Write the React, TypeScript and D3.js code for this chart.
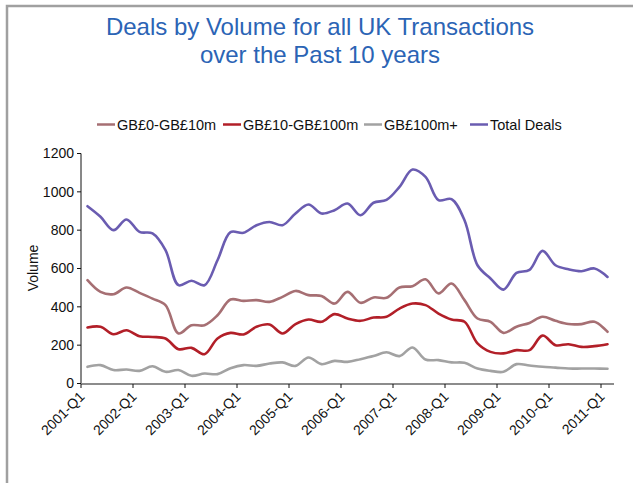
import React from "react";
import * as d3 from "d3";

const years = [2001, 2002, 2003, 2004, 2005, 2006, 2007, 2008, 2009, 2010, 2011];
const categories: string[] = [];
years.forEach((y) => ["Q1", "Q2", "Q3", "Q4"].forEach((q) => categories.push(`${y}-${q}`)));
categories.splice(41);

const tickLabels = ["2001-Q1", "2002-Q1", "2003-Q1", "2004-Q1", "2005-Q1", "2006-Q1", "2007-Q1", "2008-Q1", "2009-Q1", "2010-Q1", "2011-Q1"];
const yTicks = [0, 200, 400, 600, 800, 1000, 1200];

const small = [539, 478, 466, 501, 473, 443, 409, 261, 304, 304, 356, 438, 431, 435, 426, 452, 483, 461, 457, 417, 478, 421, 449, 447, 501, 508, 544, 470, 522, 435, 339, 322, 264, 296, 316, 348, 327, 310, 310, 322, 270];
const mid = [292, 296, 257, 278, 247, 243, 235, 179, 186, 153, 235, 264, 256, 296, 308, 261, 310, 334, 322, 362, 339, 327, 344, 348, 391, 417, 409, 365, 334, 322, 209, 165, 157, 174, 174, 250, 200, 205, 191, 195, 205];
const large = [87, 96, 70, 73, 66, 90, 61, 70, 40, 52, 49, 80, 96, 92, 104, 110, 92, 136, 101, 118, 113, 127, 143, 163, 143, 188, 125, 122, 110, 108, 78, 66, 61, 101, 94, 87, 83, 78, 78, 78, 77];
const total = [925, 870, 800, 856, 791, 783, 696, 513, 536, 513, 643, 790, 786, 826, 843, 826, 887, 934, 887, 904, 939, 878, 943, 958, 1026, 1116, 1078, 957, 962, 852, 617, 548, 490, 577, 593, 692, 617, 596, 586, 600, 556];

const seriesNames = ["GB£0-GB£10m", "GB£10-GB£100m", "GB£100m+", "Total Deals"];
const seriesValues = [small, mid, large, total];
const seriesColors = ["#a66f73", "#b21f28", "#a2a2a2", "#6a5cb1"];

const FONT = "'Liberation Sans', Arial, Helvetica, sans-serif";

export default function App() {
  const x = d3.scaleBand<string>().domain(categories).range([81, 614]).padding(0);
  const y = d3.scaleLinear().domain([0, 1200]).range([383.5, 153.5]);
  const bw = x.bandwidth();
  const line = d3
    .line<number>()
    .x((_, i) => (x(categories[i]) as number) + bw / 2)
    .y((d) => y(d))
    .curve(d3.curveCatmullRom.alpha(0.5));

  const legendX = [97, 223, 364, 470];

  return (
    <svg
      width={633}
      height={483}
      style={{ position: "absolute", left: 0, top: 0, background: "#fff" }}
      fontFamily={FONT}
    >
      {/* frame */}
      <path d="M7,483 L7,6 L633,6" fill="none" stroke="#a0a0a0" strokeWidth={2.5} />

      {/* title */}
      <text x={320} y={35} textAnchor="middle" fontSize={24} fill="#2b64b5">
        Deals by Volume for all UK Transactions
      </text>
      <text x={320} y={63} textAnchor="middle" fontSize={24} fill="#2b64b5">
        over the Past 10 years
      </text>

      {/* legend */}
      {seriesNames.map((n, i) => (
        <g key={n} transform={`translate(${legendX[i]},124.5)`}>
          <line x1={0} x2={18} y1={0} y2={0} stroke={seriesColors[i]} strokeWidth={2.5} />
          <text x={20} y={0} dy="0.35em" fontSize={14.5} fill="#111">
            {n}
          </text>
        </g>
      ))}

      {/* y axis */}
      <line x1={81} x2={81} y1={y(1200)} y2={y(0)} stroke="#111" strokeWidth={1} />
      {yTicks.map((t) => (
        <g key={t}>
          <line x1={77} x2={81} y1={y(t)} y2={y(t)} stroke="#111" strokeWidth={1} />
          <text x={74} y={y(t)} dy="0.35em" textAnchor="end" fontSize={14} fill="#111">
            {t}
          </text>
        </g>
      ))}
      <text
        transform={`translate(33,268) rotate(-90)`}
        textAnchor="middle"
        dy="0.35em"
        fontSize={14}
        fill="#111"
      >
        Volume
      </text>

      {/* x axis */}
      <line x1={81} x2={614} y1={384} y2={384} stroke="#8c8c8c" strokeWidth={1.8} />
      {tickLabels.map((lab) => {
        const tx = x(lab) as number;
        return (
          <g key={lab}>
            <line x1={tx} x2={tx} y1={384} y2={388} stroke="#111" strokeWidth={1} />
            <text
              transform={`translate(${tx + 1},394) rotate(-45)`}
              textAnchor="end"
              dy="0.35em"
              fontSize={14}
              fill="#111"
            >
              {lab}
            </text>
          </g>
        );
      })}

      {/* series */}
      {seriesValues.map((vals, i) => (
        <path
          key={seriesNames[i]}
          d={line(vals) as string}
          fill="none"
          stroke={seriesColors[i]}
          strokeWidth={2.6}
          strokeLinejoin="round"
          strokeLinecap="round"
        />
      ))}
    </svg>
  );
}
